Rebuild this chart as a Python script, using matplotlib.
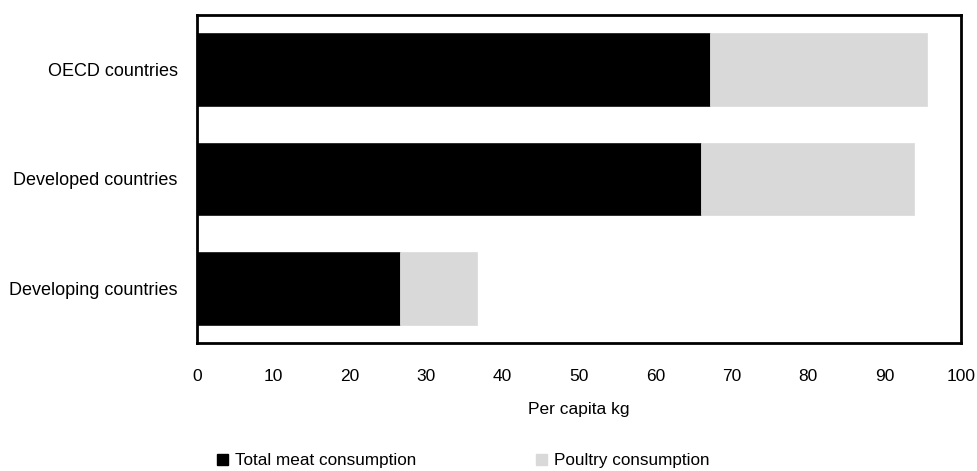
import matplotlib
matplotlib.use("Agg")
import matplotlib.pyplot as plt
from matplotlib.patches import Patch

categories = ["OECD countries", "Developed countries", "Developing countries"]
total_meat = [67.1, 66.0, 26.6]
poultry = [28.5, 27.9, 10.0]
x_ticks = [0, 10, 20, 30, 40, 50, 60, 70, 80, 90, 100]

plt.rcParams["font.family"] = ["Liberation Sans", "DejaVu Sans"]

fig = plt.figure(figsize=(9.77, 4.71), dpi=100)
ax = fig.add_axes([197 / 977, 1 - 343 / 471, (961 - 197) / 977, (343 - 15) / 471])

ypos = list(range(len(categories)))
ax.barh(ypos, total_meat, height=0.665, color="black", edgecolor="#222222", linewidth=0.6,
        label="Total meat consumption")
ax.barh(ypos, poultry, left=total_meat, height=0.665, color="#d9d9d9", edgecolor="#dddddd",
        linewidth=0.6, label="Poultry consumption")

ax.set_xlim(0, 100)
ax.set_ylim(2.5, -0.5)
ax.set_yticks(ypos)
ax.set_yticklabels(categories, fontsize=13)
ax.set_xticks(x_ticks)
ax.set_xticklabels([str(t) for t in x_ticks], fontsize=12.5)
ax.tick_params(axis="x", length=0, pad=19)
ax.tick_params(axis="y", length=0, pad=14)
for s in ax.spines.values():
    s.set_linewidth(2)
    s.set_color("black")

ax.set_xlabel("Per capita kg", fontsize=12.5, labelpad=13)

handles = [Patch(facecolor="black", edgecolor="black"),
           Patch(facecolor="#d9d9d9", edgecolor="#d9d9d9")]
fig.legend(handles, ["Total meat consumption", "Poultry consumption"],
           loc="center", bbox_to_anchor=(463 / 977, 1 - 461 / 471), ncol=2, frameon=False,
           fontsize=12.3, handlelength=0.65, handleheight=0.65, handletextpad=0.4,
           columnspacing=7.0)

fig.savefig("out.png", dpi=100)
